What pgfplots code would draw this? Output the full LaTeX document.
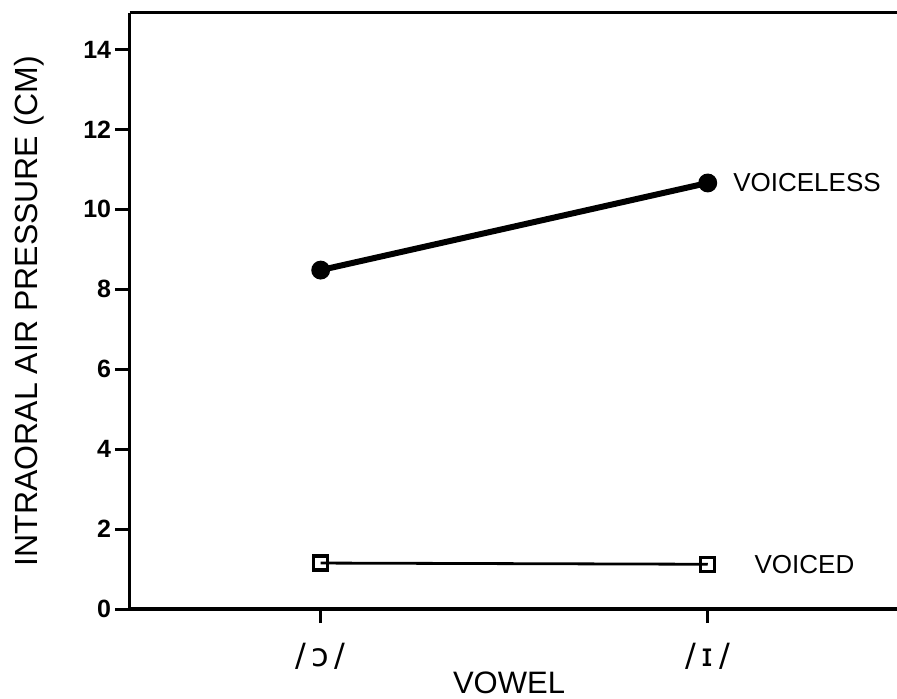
\documentclass[border=0pt]{standalone}
\usepackage{pgfplots}
\pgfplotsset{compat=1.18}
\usepackage{fontspec}
\setmainfont{Liberation Sans}
\newfontfamily\ipafont{DejaVu Sans}
\begin{document}
\begin{tikzpicture}
\begin{axis}[
  scale only axis,
  width=383.75pt, height=298.15pt,
  at={(0,0)}, anchor=south west,
  xmin=0.506, xmax=2.489,
  ymin=0, ymax=14.92,
  separate axis lines,
  axis x line*=box,
  axis y line*=left,
  axis line style={line width=1.6pt},
  x axis line style={-}, y axis line style={-},
  xtick={1,2},
  xticklabels={{\ipafont /\,\symbol{"0254}\,/},{\ipafont /\,\symbol{"026A}\,/}},
  xtick pos=bottom,
  ytick={0,2,4,6,8,10,12,14},
  ytick pos=left,
  tick align=outside,
  major tick length=7pt,
  every tick/.style={black, line width=1.5pt},
  /pgf/number format/assume math mode=true,
  yticklabel style={font=\fontsize{12.5}{14}\selectfont\bfseries, anchor=east, inner sep=0pt, xshift=-2pt},
  xticklabel style={font=\fontsize{16}{18}\selectfont, anchor=north, inner sep=0pt, yshift=-10pt},
  xlabel={VOWEL},
  xlabel style={font=\fontsize{15.5}{18}\selectfont, at={(axis description cs:0.4945,-0.124)}, anchor=center},
  ylabel={INTRAORAL AIR PRESSURE (CM)},
  ylabel style={font=\fontsize{16}{18}\selectfont, at={(axis description cs:-0.1303,0.5)}, anchor=center, rotate=0},
  clip=false,
]
\addplot[black, line width=3pt, mark=*, mark size=3.2pt, mark options={solid, fill=black}]
  coordinates {(1,8.48) (2,10.66)};
\addplot[black, line width=1.4pt, mark=square, mark size=3.5pt, mark options={solid, line width=1.6pt, fill=white}]
  coordinates {(1,1.15) (2,1.12)};
\node[anchor=west, font=\fontsize{13}{15}\selectfont, inner sep=0pt] at (axis cs:2.065,10.66) {VOICELESS};
\node[anchor=west, font=\fontsize{13}{15}\selectfont, inner sep=0pt] at (axis cs:2.12,1.12) {VOICED};
\end{axis}
\pgfresetboundingbox
\path (-64.75pt,-44.5pt) rectangle (383.75pt,304.5pt);
\end{tikzpicture}
\end{document}
